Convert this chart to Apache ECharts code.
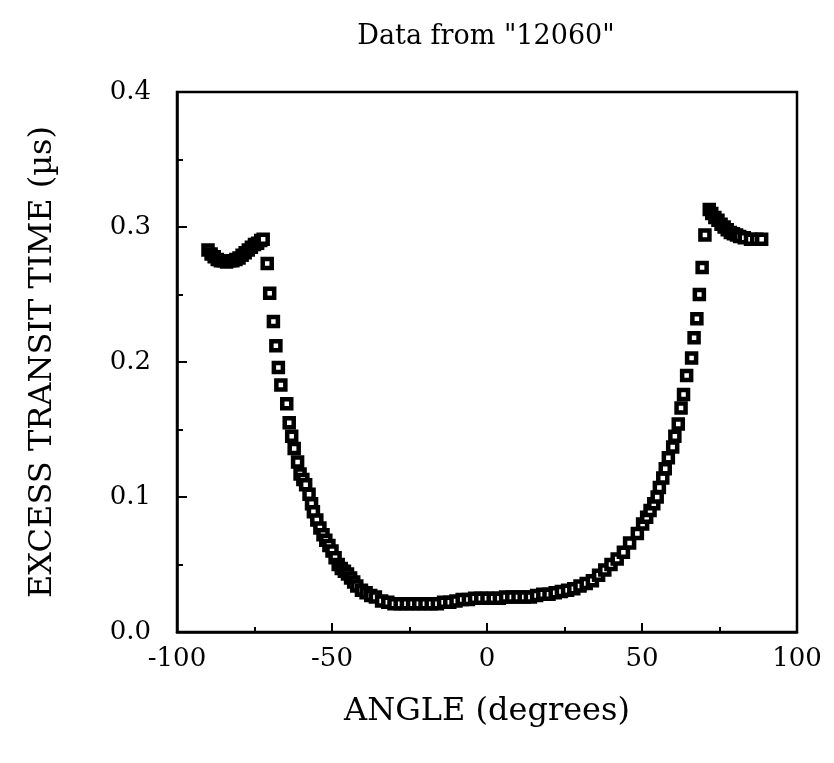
<!DOCTYPE html>
<html>
<head>
<meta charset="utf-8">
<script src="https://cdn.jsdelivr.net/npm/echarts@6/dist/echarts.min.js"></script>
<style>html,body{margin:0;padding:0;background:#fff}#c{width:834px;height:763px}</style>
</head>
<body>
<div id="c"></div>
<script>
const angles = [-90,-89,-88,-87,-86,-85,-84,-83,-82,-81,-80,-79,-78,-77,-76,-75,-74,-73,-72.2,
  -70.9,-70.1,-68.9,-68.1,-67.3,-66.5,-64.6,-63.8,-63.0,-62.2,-61.1,-60.3,-59.4,-58.5,-57.4,-56.6,-56.0,
  -54.9,-53.9,-52.9,-52.0,-51.0,-50.0,-49.0,-48.0,-47.0,-46.0,-45.0,-44.0,-43.0,-42.0,-40.5,-39.0,-37.5,-36.0,
  -34,-32,-30,-28,-26,-24,-22,-20,-18,-16,-14,-12,-10,-8,-6,-4,-2,0,2,4,6,8,10,12,14,16,18,20,22,24,26,28,30,32,34,36,38,40,42,44,46,
  48.5,50.2,51.5,52.6,53.8,54.9,55.6,56.7,57.5,58.5,59.9,60.6,61.7,62.6,63.4,64.4,66.0,66.8,67.7,68.5,69.4,70.3,71.7,
  72.5,73.5,74.5,75.5,76.5,77.5,78.5,79.5,80.5,81.5,83,85,87,88.6];
const transit = [0.283,0.280,0.278,0.276,0.275,0.275,0.274,0.275,0.275,0.276,0.277,0.279,0.281,0.283,0.285,0.287,0.288,0.290,0.291,
  0.273,0.251,0.230,0.212,0.196,0.183,0.169,0.155,0.145,0.136,0.126,0.117,0.113,0.109,0.102,0.095,0.089,
  0.083,0.077,0.072,0.068,0.064,0.060,0.055,0.050,0.047,0.045,0.043,0.040,0.037,0.034,0.031,0.029,0.027,0.026,
  0.023,0.022,0.021,0.021,0.021,0.021,0.021,0.021,0.021,0.021,0.022,0.022,0.023,0.024,0.024,0.025,0.025,0.025,0.025,0.025,0.026,0.026,0.026,0.026,0.026,0.027,0.028,0.028,0.029,0.030,0.031,0.032,0.034,0.036,0.038,0.042,0.046,0.050,0.054,0.059,0.066,
  0.073,0.080,0.085,0.090,0.095,0.100,0.107,0.114,0.121,0.129,0.137,0.145,0.154,0.166,0.176,0.190,0.203,0.218,0.232,0.250,0.270,0.294,0.313,
  0.310,0.307,0.305,0.302,0.300,0.298,0.296,0.295,0.294,0.293,0.292,0.291,0.291,0.291];
const xTicks = [-100,-50,0,50,100];
const yTicks = [0.0,0.1,0.2,0.3,0.4];

const chart = echarts.init(document.getElementById('c'), null, {renderer:'canvas'});
const serif = 'DejaVu Serif';
chart.setOption({
  animation:false,
  backgroundColor:'#fff',
  title:{text:'Data from "12060"', left:481, top:18, textAlign:'center',
    textStyle:{fontFamily:serif, fontWeight:'normal', fontSize:27, color:'#000'}},
  grid:{left:177, right:37, top:92, bottom:131, show:true, borderColor:'#000', borderWidth:2.5},
  xAxis:{type:'value', min:xTicks[0], max:xTicks[xTicks.length-1], interval:50,
    name:'ANGLE (degrees)', nameLocation:'middle', nameGap:64,
    nameTextStyle:{fontFamily:serif, fontSize:32, color:'#000'},
    axisLine:{onZero:false, lineStyle:{color:'#000', width:2.5}},
    axisTick:{inside:true, length:9, lineStyle:{color:'#000', width:2}},
    minorTick:{show:true, splitNumber:2, length:5, lineStyle:{color:'#000', width:2}},
    splitLine:{show:false},
    axisLabel:{fontFamily:serif, fontSize:26, color:'#000', margin:14}},
  yAxis:{type:'value', min:yTicks[0], max:yTicks[yTicks.length-1], interval:0.1,
    name:'EXCESS TRANSIT TIME (\u00b5s)', nameLocation:'middle', nameGap:118,
    nameTextStyle:{fontFamily:serif, fontSize:32, color:'#000'},
    axisLine:{onZero:false, lineStyle:{color:'#000', width:2.5}},
    axisTick:{inside:true, length:10, lineStyle:{color:'#000', width:2}},
    minorTick:{show:true, splitNumber:2, length:6, lineStyle:{color:'#000', width:2}},
    splitLine:{show:false},
    axisLabel:{fontFamily:serif, fontSize:26, color:'#000', margin:26, formatter:v=>v.toFixed(1)}},
  series:[{type:'scatter', data:angles.map((a,i)=>[a,transit[i]]),
    symbol:'rect', symbolSize:9,
    itemStyle:{color:'#fff', borderColor:'#000', borderWidth:4.5, opacity:1}}]
});
</script>
</body>
</html>
